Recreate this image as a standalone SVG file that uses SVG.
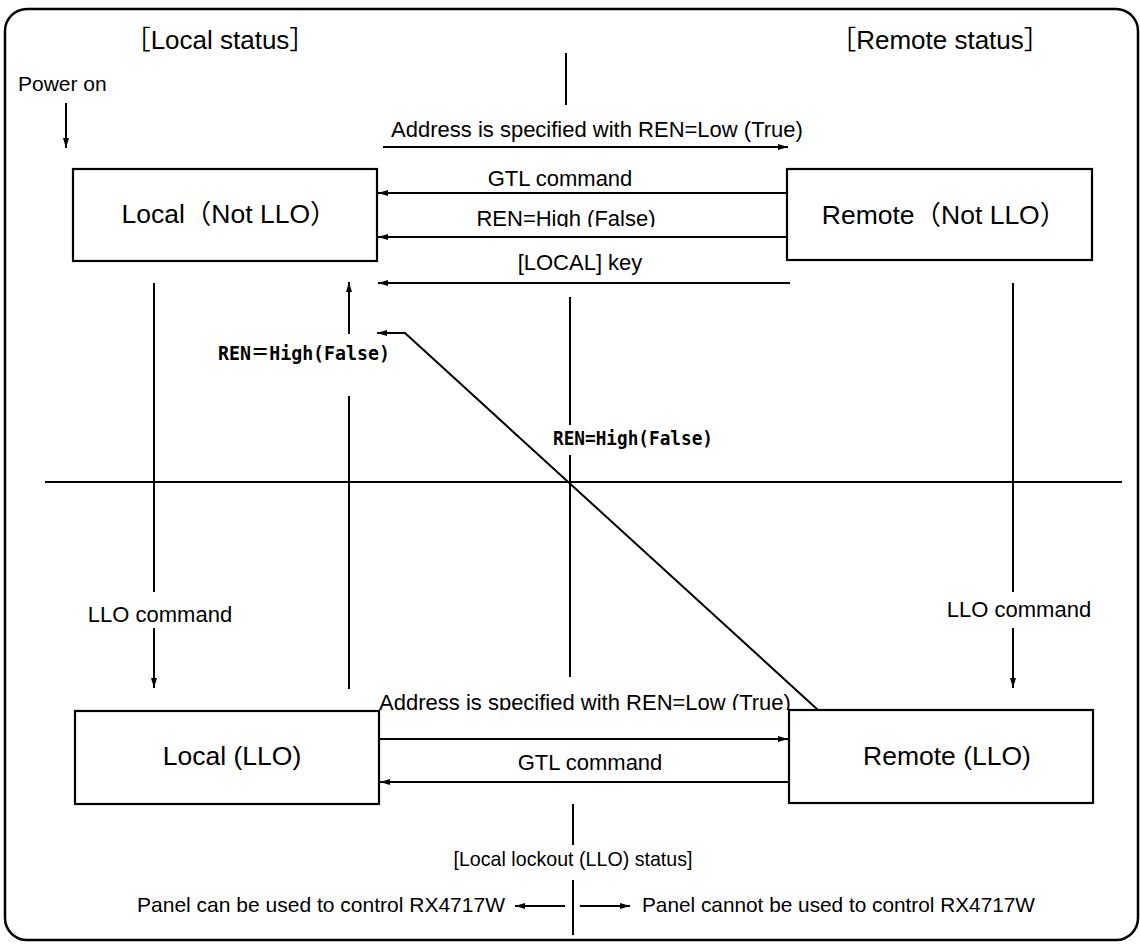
<svg xmlns="http://www.w3.org/2000/svg" width="1140" height="946" viewBox="0 0 1140 946">
<style>
  text { font-family: "Liberation Sans", Arial, "Noto Sans CJK JP", sans-serif; fill: #000; }
  .lbl { font-size: 22px; }
  .box-t { font-size: 26.5px; text-anchor: middle; }
  .hdr { font-size: 26px; text-anchor: middle; }
  .mono { font-family: "DejaVu Sans Mono", "Noto Sans CJK JP", monospace; font-size: 20px; font-weight: bold; }
  .small { font-size: 21px; }
  rect.node { fill: #fff; stroke: #000; stroke-width: 2.2; }
  .ln { stroke: #000; stroke-width: 2; fill: none; }
  .arr { stroke: #000; stroke-width: 2; fill: none; marker-end: url(#ah); }
</style>
<defs>
  <marker id="ah" viewBox="0 0 10 6" refX="10" refY="3" markerWidth="10" markerHeight="6" orient="auto" markerUnits="userSpaceOnUse">
    <path d="M0,0 L10,3 L0,6 z" fill="#000"/>
  </marker>
  <clipPath id="clipTop"><rect x="300" y="198" width="500" height="29"/></clipPath>
  <clipPath id="clipLow"><rect x="300" y="680" width="500" height="30"/></clipPath>
</defs>
<rect x="0" y="0" width="1140" height="946" fill="#fff"/>
<rect x="5" y="9" width="1133" height="931" rx="22" ry="22" fill="none" stroke="#000" stroke-width="2.5"/>

<g id="headers">
  <text class="hdr" x="220" y="49">［Local status］</text>
  <text class="hdr" x="940" y="49">［Remote status］</text>
  <text class="lbl" x="18" y="91" style="font-size:21px">Power on</text>
</g>

<g id="dividers">
  <line class="ln" x1="45" y1="482" x2="1122" y2="482"/>
  <line class="ln" x1="566" y1="53" x2="566" y2="105"/>
  <line class="ln" x1="570" y1="297" x2="570" y2="425"/>
  <line class="ln" x1="570" y1="455" x2="570" y2="677"/>
  <line class="ln" x1="573" y1="804" x2="573" y2="845"/>
  <line class="ln" x1="573" y1="880" x2="573" y2="935"/>
</g>

<g id="node-local-notllo">
  <rect class="node" x="73" y="169" width="304" height="92"/>
  <text class="box-t" x="229" y="223">Local（Not LLO）</text>
</g>
<g id="node-remote-notllo">
  <rect class="node" x="787" y="169" width="305" height="91"/>
  <text class="box-t" x="944" y="224">Remote（Not LLO）</text>
</g>
<g id="node-local-llo">
  <rect class="node" x="75" y="711" width="304" height="93"/>
  <text class="box-t" x="232" y="765">Local (LLO)</text>
</g>
<g id="node-remote-llo">
  <rect class="node" x="789" y="710" width="304" height="93"/>
  <text class="box-t" x="947" y="765">Remote (LLO)</text>
</g>

<g id="connectors">
  <line class="arr" x1="66" y1="103" x2="66" y2="148"/>
  <line class="arr" x1="383" y1="147" x2="788" y2="147"/>
  <line class="arr" x1="787" y1="193" x2="378" y2="193"/>
  <line class="arr" x1="787" y1="237" x2="378" y2="237"/>
  <line class="arr" x1="790" y1="283" x2="378" y2="283"/>
  <line class="ln" x1="154" y1="283" x2="154" y2="592"/>
  <line class="arr" x1="154" y1="628" x2="154" y2="688"/>
  <line class="ln" x1="349" y1="689" x2="349" y2="396"/>
  <line class="arr" x1="349" y1="334" x2="349" y2="282"/>
  <line class="ln" x1="1013" y1="283" x2="1013" y2="592"/>
  <line class="arr" x1="1013" y1="628" x2="1013" y2="688"/>
  <polyline class="arr" points="818,710 405,333 377,333"/>
  <line class="arr" x1="379" y1="739" x2="788" y2="739"/>
  <line class="arr" x1="789" y1="782" x2="380" y2="782"/>
  <line class="arr" x1="565" y1="906" x2="515" y2="906"/>
  <line class="arr" x1="580" y1="906" x2="630" y2="906"/>
</g>

<g id="connector-labels">
  <text class="lbl" x="597" y="137" text-anchor="middle">Address is specified with REN=Low (True)</text>
  <text class="lbl" x="560" y="186" text-anchor="middle">GTL command</text>
  <text class="lbl" x="566" y="226" text-anchor="middle" clip-path="url(#clipTop)">REN=High (False)</text>
  <text class="lbl" x="580" y="270" text-anchor="middle">[LOCAL] key</text>
  <text class="lbl" x="160" y="622" text-anchor="middle">LLO command</text>
  <text class="lbl" x="1019" y="617" text-anchor="middle">LLO command</text>
  <text class="mono" x="218" y="360" textLength="172" lengthAdjust="spacingAndGlyphs">REN＝High(False)</text>
  <text class="mono" x="553" y="445" textLength="160" lengthAdjust="spacingAndGlyphs">REN=High(False)</text>
  <text class="lbl" x="585" y="710" text-anchor="middle" clip-path="url(#clipLow)">Address is specified with REN=Low (True)</text>
  <text class="lbl" x="590" y="770" text-anchor="middle">GTL command</text>
  <text class="small" x="573" y="866" text-anchor="middle" textLength="239" lengthAdjust="spacingAndGlyphs">[Local lockout (LLO) status]</text>
  <text class="small" x="137" y="912" textLength="368" lengthAdjust="spacingAndGlyphs">Panel can be used to control RX4717W</text>
  <text class="small" x="642" y="912" textLength="393" lengthAdjust="spacingAndGlyphs">Panel cannot be used to control RX4717W</text>
</g>
</svg>
